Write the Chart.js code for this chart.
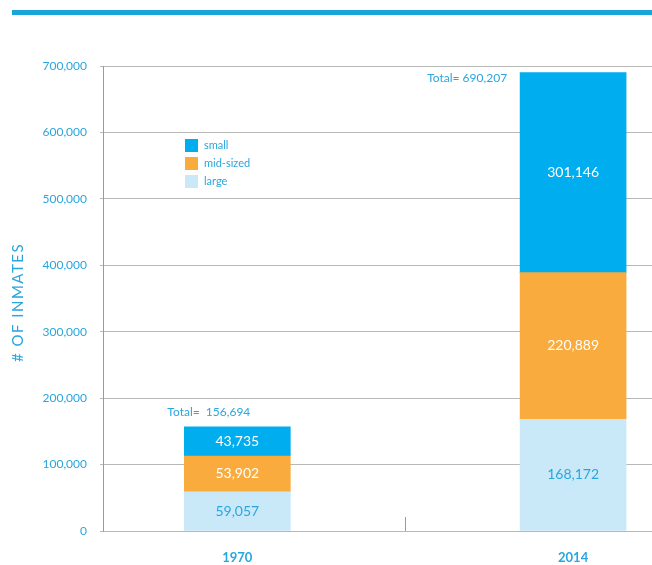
<!DOCTYPE html>
<html>
<head>
<meta charset="utf-8">
<script src="https://cdn.jsdelivr.net/npm/chart.js@4.4.1/dist/chart.umd.min.js"></script>
<style>
  body { margin: 0; background: #fff; }
  canvas { display: block; }
</style>
</head>
<body>
<canvas id="inmatesBySize" width="652" height="565"></canvas>
<script>
// Inmates by facility size, 1970 and 2014
const years = ['1970', '2014'];
const large = [59057, 168172];
const midSized = [53902, 220889];
const small = [43735, 301146];
const yTitle = '# OF INMATES';

const BLUE = '#2aa6de';
const FONT = 'Lato, "Open Sans", sans-serif';

// thick rule across the top of the figure
const topRule = {
    id: 'topRule',
    beforeDraw(chart) {
        const ctx = chart.ctx;
        ctx.save();
        ctx.fillStyle = '#1ba3dc';
        ctx.fillRect(12, 10, chart.width - 12, 5);
        ctx.restore();
    }
};

// spaced-out vertical axis title (the built-in title has no letter spacing)
const spacedTitle = {
    id: 'spacedTitle',
    afterDraw(chart) {
        const ctx = chart.ctx;
        const y = chart.scales.y;
        ctx.save();
        ctx.translate(y.left + 18, (y.top + y.bottom) / 2 + 4);
        ctx.rotate(-Math.PI / 2);
        ctx.font = '15px ' + FONT;
        ctx.letterSpacing = '1.5px';
        ctx.fillStyle = BLUE;
        ctx.textAlign = 'center';
        ctx.textBaseline = 'middle';
        ctx.fillText(yTitle, 0, 0);
        ctx.restore();
    }
};

// short divider tick on the baseline between the two years
const midTick = {
    id: 'midTick',
    afterDraw(chart) {
        const ctx = chart.ctx;
        const x = chart.scales.x.getPixelForValue((0 + years.length - 1) / 2);
        const bottom = chart.chartArea.bottom;
        ctx.save();
        ctx.strokeStyle = '#9a9a9a';
        ctx.lineWidth = 1;
        ctx.beginPath();
        ctx.moveTo(Math.round(x) + 0.5, bottom - 14);
        ctx.lineTo(Math.round(x) + 0.5, bottom);
        ctx.stroke();
        ctx.restore();
    }
};

// segment values inside the bars and the totals next to each stack
const barLabels = {
    id: 'barLabels',
    afterDatasetsDraw(chart) {
        const ctx = chart.ctx;
        const sets = chart.data.datasets;
        ctx.save();
        ctx.textBaseline = 'middle';
        ctx.textAlign = 'center';
        ctx.font = '14px ' + FONT;
        sets.forEach((ds, di) => {
            chart.getDatasetMeta(di).data.forEach((bar, i) => {
                const p = bar.getProps(['x', 'y', 'base'], true);
                ctx.fillStyle = ds.labelColor;
                ctx.fillText(ds.data[i].y.toLocaleString('en-US'), p.x, (p.y + p.base) / 2);
            });
        });

        ctx.font = '12px ' + FONT;
        ctx.fillStyle = BLUE;
        const topMeta = chart.getDatasetMeta(sets.length - 1);
        topMeta.data.forEach((bar, i) => {
            const total = sets.reduce((s, ds) => s + ds.data[i].y, 0);
            const p = bar.getProps(['x', 'y', 'width'], true);
            const left = p.x - p.width / 2;
            const text = 'Total=  ' + total.toLocaleString('en-US');
            if (p.y - chart.chartArea.top < 30) {
                // no room above the stack: put it beside the top
                ctx.textAlign = 'right';
                ctx.fillText(text.replace('  ', ' '), left - 13, p.y + 6);
            } else {
                ctx.textAlign = 'left';
                ctx.fillText(text, left - 17, p.y - 15);
            }
        });
        ctx.restore();
    }
};

// legend drawn inside the plot, smallest facilities first
const sizeLegend = {
    id: 'sizeLegend',
    afterDraw(chart, args, opts) {
        const ctx = chart.ctx;
        const items = chart.data.datasets.slice().reverse();
        ctx.save();
        ctx.font = '11px ' + FONT;
        ctx.textBaseline = 'middle';
        ctx.textAlign = 'left';
        items.forEach((ds, i) => {
            const y = opts.top + i * opts.gap;
            ctx.fillStyle = ds.backgroundColor;
            ctx.fillRect(opts.left, y, opts.box, opts.box);
            ctx.fillStyle = BLUE;
            ctx.fillText(ds.label, opts.left + opts.box + 6, y + opts.box / 2);
        });
        ctx.restore();
    }
};

const toPoints = values => values.map((v, i) => ({ x: i, y: v }));

const sizeData = {
    datasets: [{
        label: 'large',
        data: toPoints(large),
        backgroundColor: '#c9e9f9',
        labelColor: BLUE
    }, {
        label: 'mid-sized',
        data: toPoints(midSized),
        backgroundColor: '#f9ab3e',
        labelColor: '#ffffff'
    }, {
        label: 'small',
        data: toPoints(small),
        backgroundColor: '#00adee',
        labelColor: '#ffffff'
    }]
};

const sizeConfig = {
    type: 'bar',
    data: sizeData,
    plugins: [topRule, spacedTitle, midTick, barLabels, sizeLegend],
    options: {
        responsive: false,
        animation: false,
        barThickness: 106,
        layout: { padding: { top: 66, left: 0, right: 0, bottom: 0 } },
        plugins: {
            legend: { display: false },
            tooltip: { enabled: false },
            sizeLegend: { left: 185, top: 139, box: 13, gap: 18 }
        },
        scales: {
            x: {
                type: 'linear',
                stacked: true,
                offset: false,
                min: -0.4,
                max: 1.235,
                afterBuildTicks: scale => {
                    scale.ticks = years.map((_, i) => ({ value: i }));
                },
                afterFit: scale => { scale.height = 34; },
                grid: { display: false, drawTicks: false },
                border: { display: false },
                ticks: {
                    padding: 19,
                    color: BLUE,
                    font: { family: FONT, size: 13, weight: 'bold' },
                    callback: v => years[v]
                }
            },
            y: {
                stacked: true,
                min: 0,
                max: 700000,
                afterFit: scale => { scale.width = 103; },
                grid: { color: '#b8b8b8', tickLength: 3 },
                border: { color: '#9a9a9a' },
                ticks: {
                    stepSize: 100000,
                    padding: 13,
                    color: BLUE,
                    font: { family: FONT, size: 12 },
                    callback: v => v.toLocaleString('en-US')
                }
            }
        }
    }
};

const inmatesBySize = new Chart(
    document.getElementById('inmatesBySize'),
    sizeConfig
);
</script>
</body>
</html>
